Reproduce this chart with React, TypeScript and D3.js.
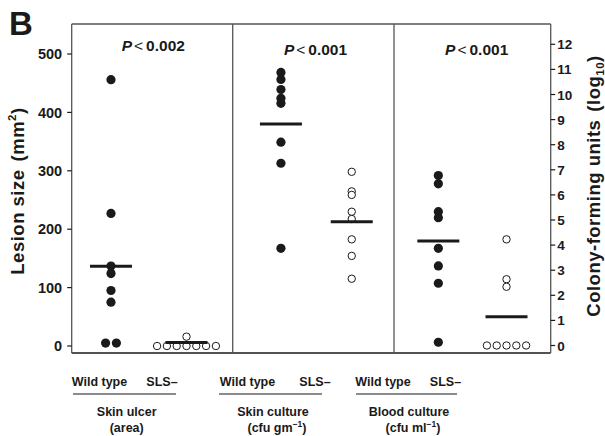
import React from "react";
import * as d3 from "d3";

// ---------- data ----------
const panelNames = ["Skin ulcer", "Skin culture", "Blood culture"];
const panelUnits = ["(area)", "(cfu gm", "(cfu ml"];
const panelP = ["0.002", "0.001", "0.001"];
const groupNames = ["Wild type", "SLS–"];

// panel 1 : lesion size (mm²), left axis
const ulcerWild = [456, 227, 137, 124, 95, 75, 5, 5];
const ulcerSLS = [16, 0, 0, 0, 0, 0, 0, 0];
const ulcerMeans = [136.5, 6];

// panel 2 : skin culture, log10 cfu, right axis
const skinWild = [10.88, 10.6, 10.2, 9.85, 9.65, 8.1, 7.26, 3.87];
const skinSLS = [6.92, 6.14, 6.0, 5.33, 5.04, 4.23, 3.57, 2.66];
const skinMeans = [8.82, 4.93];

// panel 3 : blood culture, log10 cfu, right axis
const bloodWild = [6.77, 6.44, 5.33, 5.09, 3.87, 3.17, 2.48, 0.13];
const bloodSLS = [4.23, 2.64, 2.34, 0, 0, 0, 0, 0];
const bloodMeans = [4.16, 1.15];

const leftTicks = [0, 100, 200, 300, 400, 500];
const rightTicks = [0, 1, 2, 3, 4, 5, 6, 7, 8, 9, 10, 11, 12];

// ---------- layout ----------
const W = 605;
const H = 436;
const FRAME_TOP = 24;
const FRAME_BOTTOM = 353;
const FONT = "'Liberation Sans', Arial, Helvetica, sans-serif";
const INK = "#1a1a1a";
const FRAME = "#555";

// piecewise panel scale: panel index -> x
const xPanel = d3.scaleLinear().domain([0, 1, 2, 3]).range([71.7, 232.7, 394, 550.7]);
const colOffsetByPanel = [
  [0.244, 0.713],
  [0.299, 0.738],
  [0.283, 0.718],
];

const yLeft = d3.scaleLinear().domain([0, 500]).range([346, 54]);
const yRight = d3.scaleLinear().domain([0, 12]).range([345.5, 44.3]);

type Group = { values: number[]; mean: number; filled: boolean; col: number };
type Panel = { scale: d3.ScaleLinear<number, number>; groups: Group[] };

const panels: Panel[] = [
  {
    scale: yLeft,
    groups: [
      { values: ulcerWild, mean: ulcerMeans[0], filled: true, col: 0 },
      { values: ulcerSLS, mean: ulcerMeans[1], filled: false, col: 1 },
    ],
  },
  {
    scale: yRight,
    groups: [
      { values: skinWild, mean: skinMeans[0], filled: true, col: 0 },
      { values: skinSLS, mean: skinMeans[1], filled: false, col: 1 },
    ],
  },
  {
    scale: yRight,
    groups: [
      { values: bloodWild, mean: bloodMeans[0], filled: true, col: 0 },
      { values: bloodSLS, mean: bloodMeans[1], filled: false, col: 1 },
    ],
  },
];

// spread exact ties horizontally around the column centre
function placePoints(values: number[], cx: number, spacing: number) {
  const counts = d3.rollup(values, (v) => v.length, (d) => d);
  const seen = new Map<number, number>();
  return values.map((v) => {
    const n = counts.get(v) || 1;
    const k = seen.get(v) || 0;
    seen.set(v, k + 1);
    return { v, x: cx + (k - (n - 1) / 2) * spacing };
  });
}

export default function App() {
  const rFilled = 4.6;
  const rOpen = 3.7;
  const meanHalf = 21;

  return (
    <svg width={W} height={H} style={{ display: "block", position: "absolute", left: 0, top: 0 }} fontFamily={FONT}>
      <rect x={0} y={0} width={W} height={H} fill="#fff" />
      {/* panel letter */}
      <text x={9} y={35} fontSize={33} fontWeight="bold" fill={INK}>B</text>

      {/* frame */}
      <line x1={xPanel(0)} x2={xPanel(3)} y1={FRAME_TOP} y2={FRAME_TOP} stroke={FRAME} strokeWidth={1.3} />
      <line x1={xPanel(0)} x2={xPanel(3)} y1={FRAME_BOTTOM} y2={FRAME_BOTTOM} stroke={INK} strokeWidth={1.3} />
      {[0, 1, 2, 3].map((i) => (
        <line key={i} x1={xPanel(i)} x2={xPanel(i)} y1={FRAME_TOP} y2={FRAME_BOTTOM} stroke={FRAME} strokeWidth={1.3} />
      ))}

      {/* left axis */}
      {leftTicks.map((t) => (
        <g key={t}>
          <line x1={xPanel(0) - 4.5} x2={xPanel(0)} y1={yLeft(t)} y2={yLeft(t)} stroke={INK} strokeWidth={1.2} />
          <text x={xPanel(0) - 9.5} y={yLeft(t) + 5.2} fontSize={14.5} fontWeight="bold" textAnchor="end" fill={INK}>
            {t}
          </text>
        </g>
      ))}
      <text
        transform={`translate(23.5, 191) rotate(-90)`}
        fontSize={18.5}
        fontWeight="bold"
        letterSpacing={0.5}
        textAnchor="middle"
        fill={INK}
      >
        Lesion size<tspan dx={8}>(mm</tspan>
        <tspan dy={-7.5} fontSize={11.5}>2</tspan>
        <tspan dy={7.5}>)</tspan>
      </text>

      {/* right axis */}
      {rightTicks.map((t) => (
        <g key={t}>
          <line x1={xPanel(3)} x2={xPanel(3) + 4.5} y1={yRight(t)} y2={yRight(t)} stroke={INK} strokeWidth={1.2} />
          <text x={xPanel(3) + 6.5} y={yRight(t) + 5} fontSize={13.5} fontWeight="bold" fill={INK}>
            {t}
          </text>
        </g>
      ))}
      <text
        transform={`translate(599.5, 186) rotate(-90)`}
        fontSize={18.5}
        fontWeight="bold"
        letterSpacing={0.5}
        textAnchor="middle"
        fill={INK}
      >
        Colony-forming units<tspan dx={8}>(log</tspan>
        <tspan dy={4} fontSize={11.5}>10</tspan>
        <tspan dy={-4}>)</tspan>
      </text>

      {/* P values */}
      {panelP.map((p, i) => (
        <text
          key={i}
          x={[153.3, 315.5, 476.7][i]}
          y={[50.5, 55, 55][i]}
          fontSize={15.5}
          fontWeight="bold"
          textAnchor="middle"
          fill={INK}
        >
          <tspan fontStyle="italic">P</tspan>
          <tspan fontWeight="normal" dx={2}>{"<"}</tspan>
          <tspan dx={3}>{p}</tspan>
        </text>
      ))}

      {/* data */}
      {panels.map((panel, pi) =>
        panel.groups.map((g, gi) => {
          const cx = xPanel(pi + colOffsetByPanel[pi][g.col]);
          const pts = placePoints(g.values, cx, g.filled ? 10.8 : 9.8);
          return (
            <g key={`${pi}-${gi}`}>
              {pts.map((d, k) =>
                g.filled ? (
                  <circle key={k} cx={d.x} cy={panel.scale(d.v)} r={rFilled} fill={INK} />
                ) : (
                  <circle key={k} cx={d.x} cy={panel.scale(d.v)} r={rOpen} fill="#fff" stroke={INK} strokeWidth={1} />
                )
              )}
              <line
                x1={cx - meanHalf}
                x2={cx + meanHalf}
                y1={panel.scale(g.mean)}
                y2={panel.scale(g.mean)}
                stroke={INK}
                strokeWidth={3}
              />
            </g>
          );
        })
      )}

      {/* bottom labels */}
      {panelNames.map((name, i) => {
        const wx = [99.5, 247.5, 383][i];
        const sx = [162, 315, 445.5][i];
        const ux = [[73, 176], [219, 322], [356, 457]][i];
        const nx = [126.7, 273, 409][i];
        const unx = [126.7, 277, 413][i];
        return (
          <g key={i} fontWeight="bold" fontSize={12.5} fill={INK}>
            <text x={wx} y={386} textAnchor="middle">{groupNames[0]}</text>
            <text x={sx} y={386} textAnchor="middle">{groupNames[1]}</text>
            <line x1={ux[0]} x2={ux[1]} y1={394} y2={394} stroke="#666" strokeWidth={1.5} />
            <text x={nx} y={416} textAnchor="middle">{name}</text>
            <text x={unx} y={432} textAnchor="middle">
              {i === 0 ? (
                panelUnits[0]
              ) : (
                <>
                  {panelUnits[i]}
                  <tspan dy={-5} fontSize={8.5}>−1</tspan>
                  <tspan dy={5}>)</tspan>
                </>
              )}
            </text>
          </g>
        );
      })}
    </svg>
  );
}
